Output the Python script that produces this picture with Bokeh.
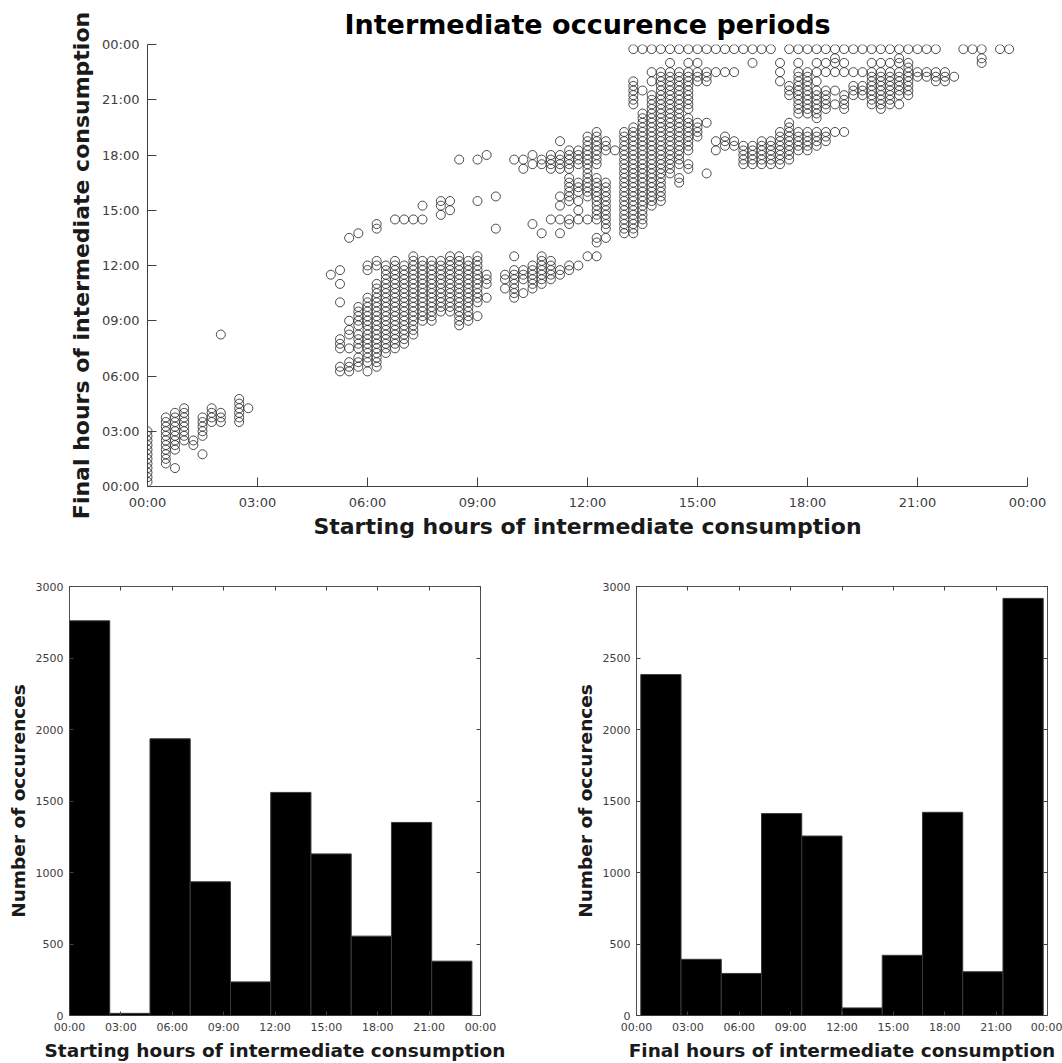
from bokeh.plotting import figure
from bokeh.layouts import column, row
from bokeh.models import Range1d, FixedTicker, LinearAxis
from bokeh.embed import file_html
from bokeh.resources import INLINE

# ---------------------------------------------------------------------------
# Data
# ---------------------------------------------------------------------------
hour_ticks = [0, 3, 6, 9, 12, 15, 18, 21, 24]
hour_labels = ["00:00", "03:00", "06:00", "09:00", "12:00",
               "15:00", "18:00", "21:00", "00:00"]
count_ticks = [0, 500, 1000, 1500, 2000, 2500, 3000]

# Observed (start, end) pairs, in quarter hours: (start, [ends...])
night_periods = [
    (0, [1, 2, 3, 4, 5, 6, 7, 8, 9, 10, 11, 12]),
    (2, [5, 6, 7, 8, 9, 10, 11, 12, 13, 14, 15]),
    (3, [4, 8, 9, 10, 11, 12, 13, 14, 15, 16]),
    (4, [10, 11, 12, 13, 14, 15, 16, 17]),
    (5, [9, 10]),
    (6, [7, 11, 12, 13, 14, 15]),
    (7, [14, 15, 16, 17]),
    (8, [14, 15, 16, 33]),
    (10, [14, 15, 16, 17, 18, 19]),
    (11, [17]),
]

morning_periods = [
    (20, [46]),
    (21, [25, 26, 30, 31, 32, 40, 44, 47]),
    (22, [25, 26, 27, 30, 33, 34, 36, 54]),
    (23, [26, 27, 28, 30, 31, 32, 33, 35, 36, 37, 38, 39, 55]),
    (24, [25, 27, 28, 29, 30, 31, 32, 33, 34, 35, 36, 37, 38, 39, 40, 41, 47, 48]),
    (25, [26, 27, 28, 29, 30, 31, 32, 33, 34, 35, 36, 37, 38, 39, 40, 41, 42, 43,
          44, 48, 49, 56, 57]),
    (26, [29, 30, 31, 32, 33, 34, 35, 36, 37, 38, 39, 40, 41, 42, 43, 44, 45, 46,
          47, 48]),
    (27, [30, 31, 32, 33, 34, 35, 36, 37, 38, 39, 40, 41, 42, 43, 44, 45, 46, 47,
          48, 49, 58]),
    (28, [31, 32, 33, 34, 35, 36, 37, 38, 39, 40, 41, 42, 43, 44, 45, 46, 47, 48,
          58]),
    (29, [33, 34, 35, 36, 37, 38, 39, 40, 41, 42, 43, 44, 45, 46, 47, 48, 49, 50,
          58]),
    (30, [36, 37, 38, 39, 40, 41, 42, 43, 44, 45, 46, 47, 48, 49, 58, 61]),
    (31, [36, 37, 38, 39, 40, 41, 42, 43, 44, 45, 46, 47, 48, 49]),
    (32, [38, 39, 40, 41, 42, 43, 44, 45, 46, 47, 48, 49, 59, 61, 62]),
    (33, [38, 39, 40, 41, 42, 43, 44, 45, 46, 47, 48, 49, 50, 60, 62]),
    (34, [35, 36, 37, 38, 39, 40, 41, 42, 43, 44, 45, 46, 47, 48, 49, 50, 71]),
    (35, [36, 37, 38, 39, 40, 41, 42, 43, 44, 45, 46, 47, 48, 49]),
    (36, [37, 40, 41, 42, 43, 44, 45, 46, 47, 48, 49, 50, 62, 71]),
    (37, [41, 44, 45, 46, 72]),
    (38, [56, 63]),
    (39, [43, 45, 46]),
]

midday_periods = [
    (40, [41, 42, 43, 44, 45, 46, 47, 50, 71]),
    (41, [42, 45, 46, 47, 69, 71]),
    (42, [43, 44, 45, 46, 47, 48, 57, 70, 72]),
    (43, [44, 45, 46, 47, 48, 49, 50, 55, 70, 71]),
    (44, [45, 46, 47, 48, 49, 58, 69, 70, 71, 72]),
    (45, [46, 47, 55, 58, 61, 63, 69, 70, 71, 72, 75]),
    (46, [47, 48, 57, 58, 62, 63, 64, 65, 66, 67, 69, 70, 71, 72, 73]),
    (47, [48, 58, 60, 62, 64, 65, 66, 70, 71, 72, 73]),
    (48, [50, 58, 63, 64, 65, 66, 67, 68, 69, 70, 71, 72, 73, 74, 75, 76]),
    (49, [50, 53, 54, 58, 59, 60, 61, 62, 63, 64, 65, 66, 67, 70, 71, 72, 73, 74,
          75, 76, 77]),
    (50, [54, 56, 57, 58, 59, 60, 61, 62, 63, 64, 65, 66, 73, 74, 75]),
    (51, [73]),
]

afternoon_periods = [
    (52, [55, 56, 57, 58, 59, 60, 61, 62, 63, 64, 65, 66, 67, 68, 69, 70, 71, 72,
          73, 74, 75, 76, 77]),
    (53, [55, 56, 57, 58, 59, 60, 61, 62, 63, 64, 65, 66, 67, 68, 69, 70, 71, 72,
          73, 74, 75, 76, 77, 78, 83, 84, 85, 86, 87, 88, 95]),
    (54, [57, 58, 59, 60, 61, 62, 63, 64, 65, 66, 67, 68, 69, 70, 71, 72, 73, 74,
          75, 76, 77, 78, 79, 80, 81, 86, 95]),
    (55, [61, 62, 63, 64, 65, 66, 67, 68, 69, 70, 71, 72, 73, 74, 75, 76, 77, 78,
          79, 80, 81, 82, 83, 84, 85, 88, 90, 95]),
    (56, [62, 63, 64, 65, 66, 67, 68, 69, 70, 71, 72, 73, 74, 75, 76, 77, 78, 79,
          80, 81, 82, 83, 84, 85, 86, 87, 88, 89, 90, 95]),
    (57, [68, 69, 70, 71, 72, 73, 74, 75, 76, 77, 78, 79, 80, 81, 82, 83, 84, 85,
          86, 87, 88, 89, 90, 92, 95]),
    (58, [66, 67, 70, 71, 72, 73, 74, 75, 76, 77, 78, 79, 80, 81, 82, 83, 84, 85,
          86, 87, 88, 89, 90, 95]),
    (59, [69, 70, 73, 74, 75, 76, 77, 78, 79, 80, 82, 83, 84, 85, 86, 87, 88, 89,
          90, 92, 95]),
    (60, [76, 77, 78, 79, 88, 89, 90, 92, 95]),
    (61, [68, 79, 88, 89, 90, 95]),
    (62, [73, 75, 90, 95]),
    (63, [74, 75, 76, 90, 95]),
    (64, [74, 75, 90, 95]),
    (65, [70, 71, 72, 73, 74, 95]),
    (66, [70, 71, 72, 73, 74, 92, 95]),
    (67, [70, 71, 72, 73, 74, 75, 95]),
    (68, [70, 71, 72, 73, 74, 75, 95]),
    (69, [70, 71, 72, 73, 74, 75, 76, 77, 88, 90, 92]),
    (70, [71, 72, 73, 74, 75, 76, 77, 78, 79, 85, 86, 87, 95]),
    (71, [73, 74, 75, 76, 77, 81, 82, 83, 84, 85, 86, 87, 88, 89, 90, 92, 95]),
]

evening_periods = [
    (72, [73, 74, 75, 76, 77, 81, 82, 83, 84, 85, 86, 87, 88, 89, 90, 95]),
    (73, [74, 75, 76, 77, 80, 81, 82, 83, 84, 85, 86, 88, 90, 92, 95]),
    (74, [75, 76, 77, 82, 83, 84, 85, 86, 90, 92, 95]),
    (75, [77, 83, 86, 90, 92, 93, 95]),
    (76, [77, 82, 83, 84, 85, 90, 92, 95]),
    (77, [85, 86, 87, 90, 95]),
    (78, [85, 86, 87, 90, 95]),
    (79, [83, 84, 85, 86, 87, 88, 89, 90, 92, 95]),
    (80, [82, 83, 84, 85, 86, 87, 88, 89, 90, 92, 95]),
    (81, [83, 84, 85, 86, 87, 88, 89, 90, 92, 95]),
    (82, [83, 85, 86, 87, 88, 89, 90, 92, 93, 95]),
    (83, [85, 86, 87, 88, 89, 90, 91, 92, 95]),
    (84, [89, 90, 95]),
    (85, [89, 90, 95]),
    (86, [88, 89, 90, 95]),
    (87, [88, 89, 90]),
    (88, [89]),
    (89, [95]),
    (90, [95]),
    (91, [92, 93, 95]),
    (93, [95]),
    (94, [95]),
]

# Histogram of starting hours (10 bins)
start_bin_edges = [0.0, 2.35, 4.70, 7.05, 9.40, 11.75, 14.10, 16.45, 18.80, 21.15, 23.50]
start_counts = [2760, 15, 1935, 935, 235, 1560, 1130, 555, 1350, 380]

# Histogram of final hours (10 bins)
final_bin_edges = [0.25, 2.60, 4.95, 7.30, 9.65, 12.00, 14.35, 16.70, 19.05, 21.40, 23.75]
final_counts = [2384, 393, 294, 1412, 1255, 53, 421, 1421, 306, 2917]

# ---------------------------------------------------------------------------
FONT = "DejaVu Sans"
AXIS_GREY = "#404040"

start_hours, final_hours = [], []
for group in (night_periods, morning_periods, midday_periods,
              afternoon_periods, evening_periods):
    for start_q, ends in group:
        for end_q in ends:
            start_hours.append(start_q / 4.0)
            final_hours.append(end_q / 4.0)

label_map = {t: lab for t, lab in zip(hour_ticks, hour_labels)}


def style_axis(ax, ticks, overrides, tick_size, label_size, tick_len):
    ax.ticker = FixedTicker(ticks=ticks)
    if overrides:
        ax.major_label_overrides = overrides
    ax.minor_tick_line_color = None
    ax.major_tick_in = tick_len
    ax.major_tick_out = 0
    ax.major_tick_line_color = AXIS_GREY
    ax.axis_line_color = AXIS_GREY
    ax.major_label_text_font = FONT
    ax.major_label_text_font_size = tick_size
    ax.major_label_text_color = AXIS_GREY
    ax.axis_label_text_font = FONT
    ax.axis_label_text_font_size = label_size
    ax.axis_label_text_font_style = "bold"
    ax.axis_label_text_color = "#1a1a1a"


# --- scatter of start vs final hour ---------------------------------------
p1 = figure(width=1062, height=560, output_backend="svg", toolbar_location=None,
            x_range=Range1d(0, 24), y_range=Range1d(0, 24),
            min_border_left=147, min_border_right=35,
            min_border_top=44, min_border_bottom=74)
p1.title.text = "Intermediate occurence periods"
p1.title.text_font = FONT
p1.title.text_font_size = "27px"
p1.title.text_font_style = "bold"
p1.title.text_color = "black"
p1.title.align = "center"
p1.outline_line_color = None
p1.grid.visible = False
p1.background_fill_color = "white"
p1.border_fill_color = "white"

style_axis(p1.xaxis[0], hour_ticks, label_map, "13px", "22px", 9)
style_axis(p1.yaxis[0], hour_ticks, label_map, "13px", "22px", 9)
p1.xaxis[0].axis_label = "Starting hours of intermediate consumption"
p1.yaxis[0].axis_label = "Final hours of intermediate consumption"
p1.xaxis[0].major_label_standoff = 8
p1.yaxis[0].major_label_standoff = 8
p1.xaxis[0].axis_label_standoff = 1
p1.yaxis[0].axis_label_standoff = 5

p1.scatter(start_hours, final_hours, marker="circle", size=9,
           fill_color=None, line_color="#2e2e2e", line_alpha=0.85, line_width=1)


# --- histograms -------------------------------------------------------------
def histogram(edges, counts, xlabel, left_border, right_border):
    p = figure(width=531, height=503, output_backend="svg", toolbar_location=None,
               x_range=Range1d(0, 24), y_range=Range1d(0, 3000),
               min_border_left=left_border, min_border_right=right_border,
               min_border_top=26, min_border_bottom=45)
    p.grid.visible = False
    p.outline_line_color = "#505050"
    p.outline_line_width = 1
    p.background_fill_color = "white"
    p.border_fill_color = "white"

    p.quad(left=edges[:-1], right=edges[1:], bottom=0, top=counts,
           fill_color="black", line_color="#3a3a3a", line_width=1)

    xa, ya = p.xaxis[0], p.yaxis[0]
    style_axis(xa, hour_ticks, label_map, "11px", "18.5px", 4)
    style_axis(ya, count_ticks, None, "11px", "18.5px", 4)
    xa.axis_line_color = None
    ya.axis_line_color = None
    xa.axis_label = xlabel
    ya.axis_label = "Number of occurences"
    xa.major_label_standoff = 5
    ya.major_label_standoff = 6
    xa.axis_label_standoff = 3
    ya.axis_label_standoff = 4

    # mirrored tick marks on the top and right edges of the box (no labels)
    for side, ticks in (("above", hour_ticks), ("right", count_ticks)):
        ax = LinearAxis()
        ax.ticker = FixedTicker(ticks=ticks)
        ax.minor_tick_line_color = None
        ax.major_tick_in = 4
        ax.major_tick_out = 0
        ax.major_tick_line_color = AXIS_GREY
        ax.axis_line_color = None
        ax.major_label_text_font_size = "1px"
        ax.major_label_text_color = None
        ax.major_label_standoff = 0
        p.add_layout(ax, side)
    return p


p2 = histogram(start_bin_edges, start_counts,
               "Starting hours of intermediate consumption", 69, 51)
p3 = histogram(final_bin_edges, final_counts,
               "Final hours of intermediate consumption", 105, 15)

layout = column(p1, row(p2, p3))

with open("out.html", "w") as f:
    f.write(file_html(layout, INLINE))
